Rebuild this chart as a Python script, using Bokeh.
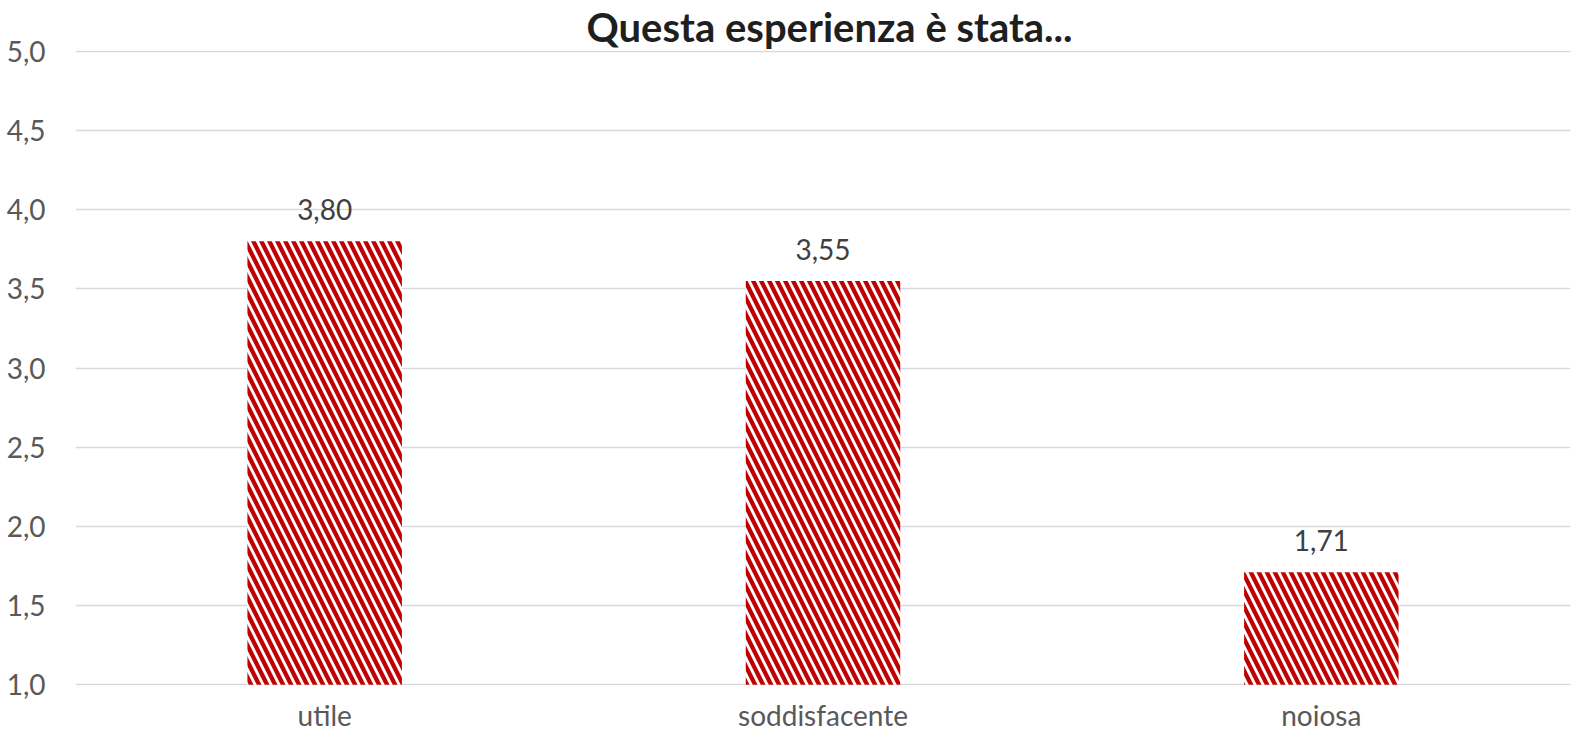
from bokeh.plotting import figure
from bokeh.models import ColumnDataSource, LabelSet, Range1d, FixedTicker
from bokeh.core.properties import value
from bokeh.embed import file_html
from bokeh.resources import INLINE

categories = ["utile", "soddisfacente", "noiosa"]
values = [3.80, 3.55, 1.71]
value_labels = ["3,80", "3,55", "1,71"]
y_ticks = [1.0, 1.5, 2.0, 2.5, 3.0, 3.5, 4.0, 4.5, 5.0]
y_tick_labels = ["1,0", "1,5", "2,0", "2,5", "3,0", "3,5", "4,0", "4,5", "5,0"]
title_text = "Questa esperienza è stata..."

FONT = "Lato"

src = ColumnDataSource(dict(cat=categories, val=values, lab=value_labels))

p = figure(x_range=categories, y_range=Range1d(0.995, 5.005),
           width=1573, height=734, output_backend="svg", toolbar_location=None,
           min_border_left=75, min_border_right=3, min_border_top=0, min_border_bottom=10)
p.outline_line_color = None
p.background_fill_color = "white"
p.border_fill_color = "white"

p.title.text = title_text
p.title.align = "left"
p.title.offset = 511
p.title.standoff = 0
p.title.text_font = FONT
p.title.text_font_size = "40px"
p.title.text_font_style = "bold"
p.title.text_color = "#1f1f1f"

p.vbar(x="cat", top="val", bottom=1.0, width=0.31, source=src,
       fill_color="white", line_color=None,
       hatch_pattern="\\", hatch_color="#C00000", hatch_scale=16, hatch_weight=4.3)

p.add_layout(LabelSet(x="cat", y="val", text="lab", source=src, y_offset=21,
                      text_align="center", text_baseline="alphabetic",
                      text_font=value(FONT), text_font_size="28px", text_color="#404040"))

p.xgrid.grid_line_color = None
p.ygrid.grid_line_color = "#d9d9d9"
p.ygrid.grid_line_width = 1.5
p.yaxis.ticker = FixedTicker(ticks=y_ticks)
p.yaxis.major_label_overrides = {t: l for t, l in zip(y_ticks, y_tick_labels)}

for ax in (p.xaxis, p.yaxis):
    ax.axis_line_color = None
    ax.major_tick_line_color = None
    ax.minor_tick_line_color = None
    ax.major_tick_in = 0
    ax.major_tick_out = 0
    ax.major_label_text_font = FONT
    ax.major_label_text_font_size = "28px"
    ax.major_label_text_color = "#595959"
p.yaxis.major_label_standoff = 30
p.xaxis.major_label_standoff = 12

open("out.html", "w").write(file_html(p, INLINE))
